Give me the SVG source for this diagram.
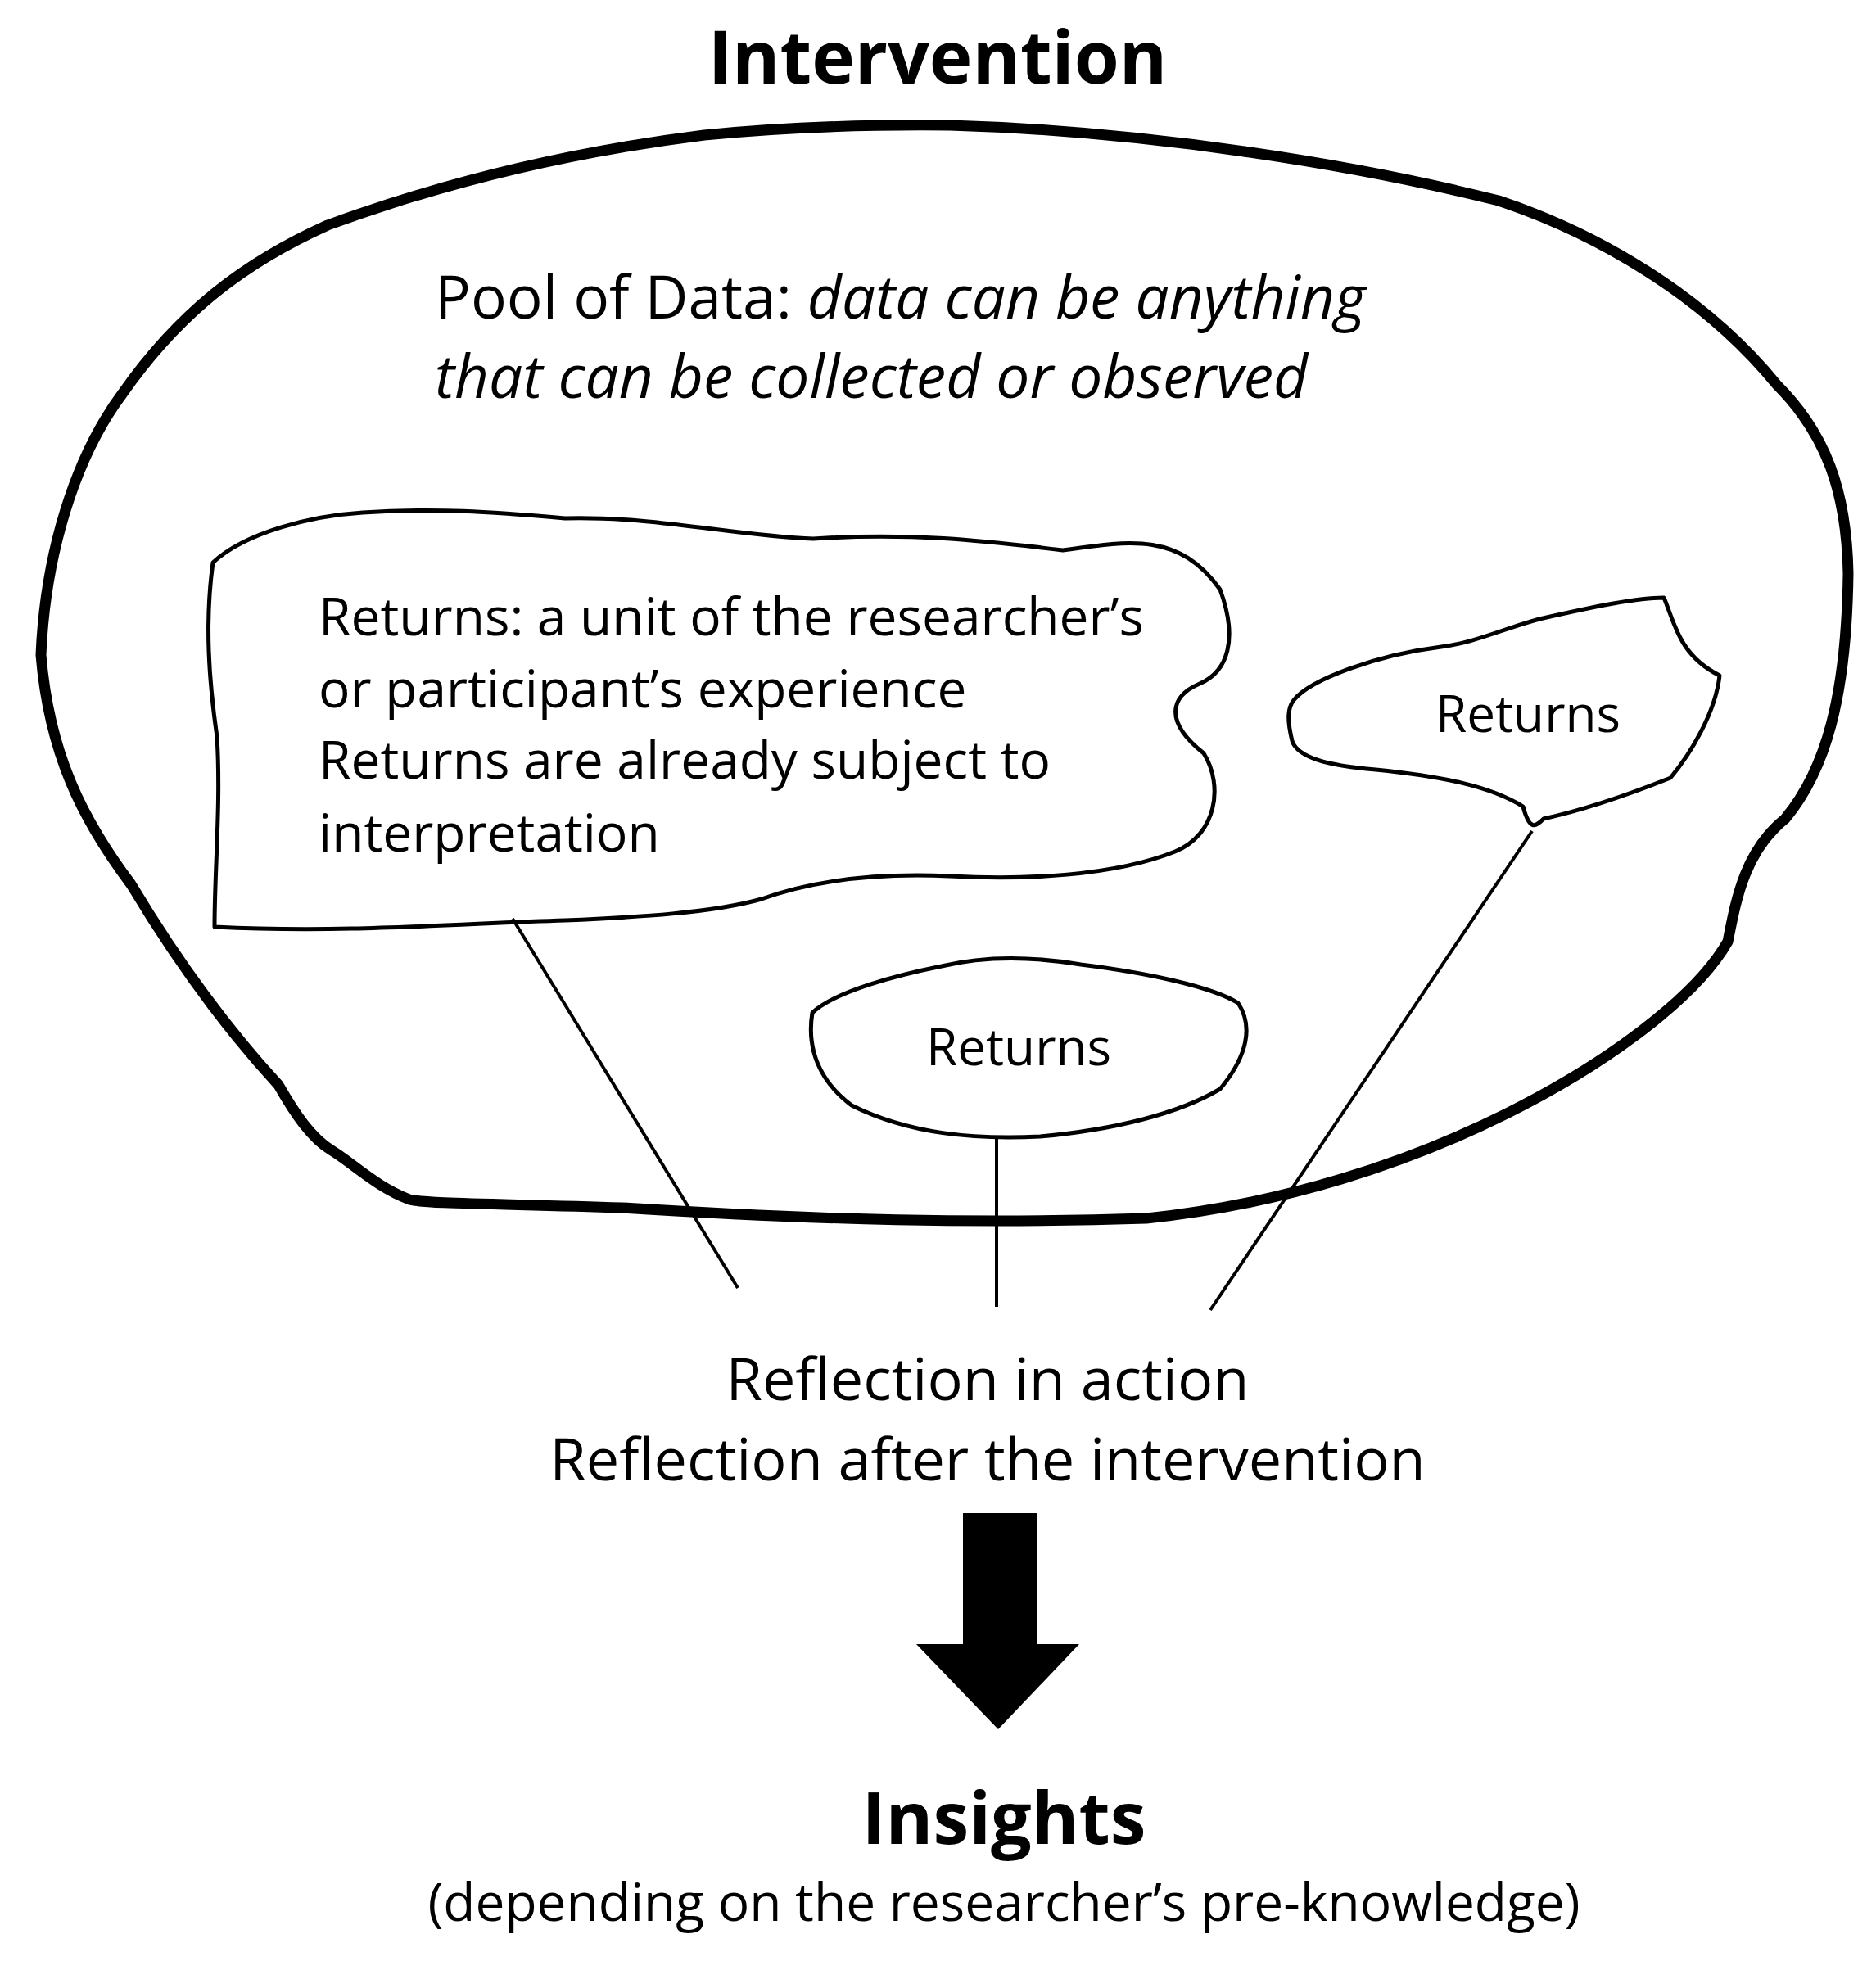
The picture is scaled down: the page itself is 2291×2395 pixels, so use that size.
<svg xmlns="http://www.w3.org/2000/svg" width="2291" height="2395" viewBox="0 0 2291 2395">
<style>
.t{font-family:"Open Sans","Liberation Sans",sans-serif;fill:#000}
.b{stroke:#000;fill:none;stroke-linejoin:round}
</style>
<rect width="2291" height="2395" fill="#fff"/>
<text class="t" x="1145" y="102" font-size="89" font-weight="bold" text-anchor="middle">Intervention</text>
<g id="pool">
<path class="b" stroke-width="13" d="M1160,153 C1400,160 1650,200 1830,245 C1950,285 2080,360 2170,470 C2230,530 2255,600 2257,700 C2255,850 2230,940 2180,1000 C2130,1040 2120,1100 2110,1150 C2070,1220 1960,1300 1840,1360 C1720,1420 1570,1470 1400,1488 C1200,1495 1000,1490 760,1475 C600,1470 520,1470 500,1465 C460,1450 430,1420 405,1405 C380,1390 360,1360 340,1325 C280,1260 220,1180 160,1080 C100,1000 60,920 50,800 C55,680 90,560 150,480 C220,380 300,320 400,275 C550,220 700,185 860,165 C960,155 1060,152 1160,153 Z"/>
<text class="t" x="531" y="389" font-size="73">Pool of Data: <tspan font-style="italic">data can be anything</tspan></text>
<text class="t" x="531" y="486" font-size="73" font-style="italic">that can be collected or observed</text>
</g>
<g id="returns1">
<path class="b" stroke-width="5" d="M260,687 C300,650 380,630 443,626 C530,620 600,625 690,633 C800,630 900,655 993,658 C1110,650 1200,660 1298,672 C1380,660 1440,650 1490,720 C1512,780 1500,820 1465,835 C1430,850 1420,880 1470,920 C1495,960 1485,1020 1435,1040 C1360,1070 1250,1075 1160,1070 C1050,1065 980,1080 930,1098 C870,1115 780,1120 690,1124 C560,1128 420,1140 262,1132 C262,1060 270,980 265,900 C255,830 250,760 260,687 Z"/>
<text class="t" font-size="64" x="389" y="776">Returns: a unit of the researcher’s</text>
<text class="t" font-size="64" x="389" y="864">or participant’s experience</text>
<text class="t" font-size="64" x="389" y="951">Returns are already subject to</text>
<text class="t" font-size="64" x="389" y="1040">interpretation</text>
</g>
<g id="returns2">
<path class="b" stroke-width="5" d="M1580,855 C1600,830 1680,800 1760,790 C1800,785 1830,770 1880,756 C1950,740 2000,730 2032,730 C2045,760 2050,800 2100,825 C2095,870 2065,920 2040,950 C1990,970 1930,990 1885,1000 C1875,1010 1868,1015 1860,985 C1820,960 1760,948 1680,940 C1620,935 1585,925 1578,905 C1572,880 1572,865 1580,855 Z"/>
<text class="t" font-size="62" x="1866" y="894" text-anchor="middle">Returns</text>
</g>
<g id="returns3">
<path class="b" stroke-width="5" d="M992,1237 C1020,1210 1100,1190 1150,1180 C1200,1168 1260,1168 1320,1178 C1400,1188 1480,1205 1512,1225 C1535,1260 1515,1300 1490,1330 C1440,1360 1360,1380 1270,1388 C1190,1392 1110,1385 1040,1350 C1000,1320 985,1280 992,1237 Z"/>
<text class="t" font-size="62" x="1244" y="1301" text-anchor="middle">Returns</text>
</g>
<g id="connectors" stroke="#000" stroke-width="4">
<line x1="626" y1="1122" x2="901" y2="1573"/>
<line x1="1217" y1="1387" x2="1217" y2="1596"/>
<line x1="1871" y1="1015" x2="1478" y2="1600"/>
<polygon points="1176,1848 1267,1848 1267,2008 1318,2008 1219,2112 1119,2008 1176,2008" fill="#000" stroke="none"/>
</g>
<g id="reflection">
<text class="t" font-size="72" x="1206" y="1710" text-anchor="middle">Reflection in action</text>
<text class="t" font-size="72" x="1206" y="1808" text-anchor="middle">Reflection after the intervention</text>
</g>
<g id="insights">
<text class="t" font-size="88" font-weight="bold" x="1226" y="2252" text-anchor="middle">Insights</text>
<text class="t" font-size="64" x="1226" y="2346" text-anchor="middle">(depending on the researcher’s pre-knowledge)</text>
</g>
</svg>
